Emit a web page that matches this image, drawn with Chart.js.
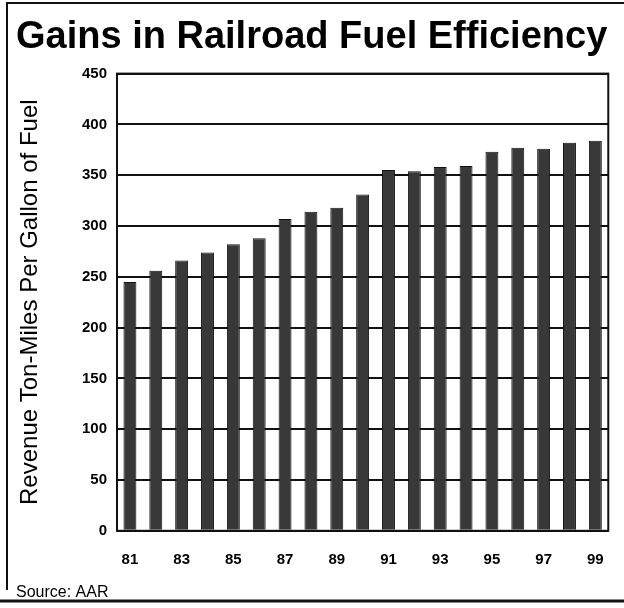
<!DOCTYPE html>
<html>
<head>
<meta charset="utf-8">
<script src="https://cdn.jsdelivr.net/npm/chart.js@4/dist/chart.umd.min.js"></script>
<style>
  html, body { margin: 0; padding: 0; background: #ffffff; }
  #wrap { width: 624px; height: 608px; }
</style>
</head>
<body>
<div id="wrap"><canvas id="chart" width="624" height="608"></canvas></div>
<script>
// Revenue ton-miles per gallon of fuel, 1981-1999
const years = ['81','82','83','84','85','86','87','88','89','90',
               '91','92','93','94','95','96','97','98','99'];
const tonMilesPerGallon = [245, 256, 266, 274, 282, 288, 307, 314, 318, 331,
                           355, 354, 358, 359, 373, 377, 376, 382, 384];
const yTicks = [0, 50, 100, 150, 200, 250, 300, 350, 400, 450];

const FONT = '"Liberation Sans", Arial, Helvetica, sans-serif';

// Page frame lines and the box around the plot
const framePlugin = {
  id: 'frame',
  beforeDraw(chart) {
    const ctx = chart.ctx;
    ctx.save();
    ctx.fillStyle = '#ffffff';
    ctx.fillRect(0, 0, chart.width, chart.height);
    ctx.strokeStyle = '#111';
    ctx.lineWidth = 2;
    ctx.beginPath();
    ctx.moveTo(6, 3); ctx.lineTo(chart.width, 3);
    ctx.moveTo(7, 3); ctx.lineTo(7, 590);
    ctx.stroke();
    ctx.lineWidth = 3;
    ctx.beginPath();
    ctx.moveTo(0, 601); ctx.lineTo(chart.width, 601);
    ctx.stroke();
    ctx.restore();
  },
  afterDatasetsDraw(chart) {
    const a = chart.chartArea;
    const ctx = chart.ctx;
    ctx.save();
    ctx.strokeStyle = '#111';
    ctx.lineWidth = 2;
    ctx.strokeRect(a.left, a.top, a.right - a.left, a.bottom - a.top);
    ctx.restore();
  }
};

new Chart(document.getElementById('chart'), {
  type: 'bar',
  data: {
    labels: years,
    datasets: [{
      data: tonMilesPerGallon,
      backgroundColor: '#383838',
      borderColor: '#111',
      borderWidth: 1,
      categoryPercentage: 1.0,
      barPercentage: 0.5
    }]
  },
  options: {
    responsive: false,
    animation: false,
    layout: { padding: { left: 16, right: 12, top: 0, bottom: 4 } },
    plugins: {
      legend: { display: false },
      tooltip: { enabled: false },
      title: {
        display: true,
        text: 'Gains in Railroad Fuel Efficiency',
        align: 'start',
        color: '#000',
        font: { family: FONT, size: 38, weight: 'bold' },
        padding: { top: 15, bottom: 13 }
      },
      subtitle: {
        display: true,
        position: 'bottom',
        align: 'start',
        text: 'Source: AAR',
        color: '#000',
        font: { family: FONT, size: 16, weight: 'normal' },
        padding: { top: 0, bottom: 2 }
      }
    },
    scales: {
      x: {
        grid: { display: false, drawTicks: false },
        border: { display: false },
        afterFit(scale) { scale.height = 52; },
        ticks: {
          autoSkip: false,
          maxRotation: 0,
          padding: 20,
          color: '#000',
          font: { family: FONT, size: 15, weight: 'bold' },
          callback(value, index) { return index % 2 === 0 ? years[index] : ''; }
        }
      },
      y: {
        min: yTicks[0],
        max: yTicks[yTicks.length - 1],
        afterFit(scale) { scale.width = 101; },
        afterBuildTicks(scale) { scale.ticks = yTicks.map(v => ({ value: v })); },
        grid: { color: '#111', lineWidth: 2, drawTicks: false },
        border: { display: false },
        ticks: {
          padding: 10,
          color: '#000',
          font: { family: FONT, size: 15, weight: 'bold' }
        },
        title: {
          display: true,
          text: 'Revenue Ton-Miles Per Gallon of Fuel',
          color: '#000',
          font: { family: FONT, size: 24, weight: 'normal' },
          padding: { top: 0, bottom: 4 }
        }
      }
    }
  },
  plugins: [framePlugin]
});
</script>
</body>
</html>
